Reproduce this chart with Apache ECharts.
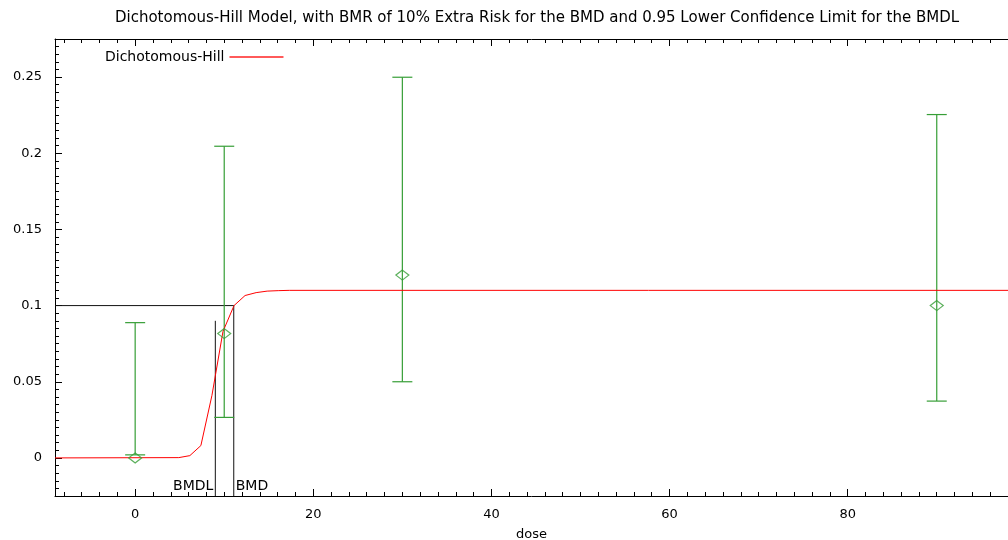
<!DOCTYPE html>
<html>
<head>
<meta charset="utf-8">
<script src="https://cdn.jsdelivr.net/npm/echarts@6/dist/echarts.min.js"></script>
<style>
html,body{margin:0;padding:0;background:#fff;}
#chart{width:1008px;height:540px;}
</style>
</head>
<body>
<div id="chart"></div>
<script>
// ---- data ----
const doses   = [0, 10, 30, 90];
const means   = [0, 0.0816, 0.12, 0.1];
const lowerCL = [0.002, 0.0266, 0.05, 0.0373];
const upperCL = [0.0888, 0.2046, 0.2499, 0.2254];

const curveDose = [-9, 4.9, 6.14, 7.38, 8.62, 9.86, 11.1, 12.34, 13.58, 14.82, 16.06, 17.3, 98];
const curveResp = [0, 0.0002, 0.0015, 0.0081, 0.041, 0.083, 0.1, 0.1066, 0.1085, 0.1095, 0.1098, 0.11, 0.11];

const bmrLevel = 0.1;
const bmdValue = 11.07;
const bmdlValue = 9.0;
const bmdlTop = 0.09;

const xTickLabels = [0, 20, 40, 60, 80];
const yTickLabels = [0, 0.05, 0.1, 0.15, 0.2, 0.25];

const xMin = -9, xMax = 98, yMin = -0.025, yMax = 0.275;

const xMinor = [];
for (let v = -8; v <= xMax; v += 2) if (v % 20 !== 0) xMinor.push(v);
const yMinor = [];
for (let k = -5; k <= 55; k++) if (k % 10 !== 0) yMinor.push(+(k * 0.005).toFixed(3));

const FONT = 'DejaVu Sans';
const green = '#369e36';

const chart = echarts.init(document.getElementById('chart'));

function xAxisDef(pos, major, withLabels) {
  return {
    type: 'value', position: pos, min: xMin, max: xMax, gridIndex: 0,
    axisLine: { show: major, onZero: false, lineStyle: { color: '#000', width: 1 } },
    axisTick: { show: true, inside: true, length: major ? 7 : 4,
      customValues: major ? xTickLabels : xMinor, lineStyle: { color: '#000' } },
    axisLabel: withLabels ? { show: true, customValues: xTickLabels, margin: 12,
      fontFamily: FONT, fontSize: 13, color: '#000' } : { show: false },
    splitLine: { show: false },
    name: withLabels ? 'dose' : '', nameLocation: 'middle', nameGap: 32,
    nameTextStyle: { fontFamily: FONT, fontSize: 13, color: '#000' }
  };
}
function yAxisDef(major) {
  return {
    type: 'value', position: 'left', min: yMin, max: yMax, gridIndex: 0,
    axisLine: { show: major, onZero: false, lineStyle: { color: '#000', width: 1 } },
    axisTick: { show: true, inside: true, length: major ? 7 : 4,
      customValues: major ? yTickLabels : yMinor, lineStyle: { color: '#000' } },
    axisLabel: major ? { show: true, customValues: yTickLabels, margin: 13,
      fontFamily: FONT, fontSize: 13, color: '#000' } : { show: false },
    splitLine: { show: false }
  };
}

const errData = doses.map((d, i) => [d, lowerCL[i], upperCL[i]]);
const ptData = doses.map((d, i) => [d, means[i]]);
const curveData = curveDose.map((d, i) => [d, curveResp[i]]);

const option = {
  animation: false,
  backgroundColor: '#fff',
  title: {
    text: 'Dichotomous-Hill Model, with BMR of 10% Extra Risk for the BMD and 0.95 Lower Confidence Limit for the BMDL',
    left: 532, top: 6, textAlign: 'center',
    textStyle: { fontFamily: FONT, fontSize: 15, fontWeight: 'normal', color: '#000' }
  },
  legend: {
    data: ['Dichotomous-Hill'], left: 100, top: 45, align: 'right',
    itemWidth: 54, itemHeight: 14,
    textStyle: { fontFamily: FONT, fontSize: 14, color: '#000' },
    lineStyle: { width: 2, color: '#ff5a5a' },
    itemStyle: { opacity: 0 }
  },
  grid: { left: 55, right: 0, top: 39, bottom: 44, containLabel: false, outerBoundsMode: 'none' },
  xAxis: [xAxisDef('bottom', true, true), xAxisDef('bottom', false, false),
          xAxisDef('top', true, false), xAxisDef('top', false, false)],
  yAxis: [yAxisDef(true), yAxisDef(false)],
  series: [
    {
      name: 'BMD lines', type: 'custom', xAxisIndex: 0, yAxisIndex: 0,
      data: [[bmdlValue, bmdValue]],
      renderItem: function (params, api) {
        const pL = api.coord([xMin, bmrLevel]);
        const pB = api.coord([bmdValue, bmrLevel]);
        const pBb = api.coord([bmdValue, yMin]);
        const pLt = api.coord([bmdlValue, bmdlTop]);
        const pLb = api.coord([bmdlValue, yMin]);
        const ls = { stroke: '#111', lineWidth: 1 };
        return { type: 'group', children: [
          { type: 'line', shape: { x1: pL[0], y1: pL[1], x2: pB[0], y2: pB[1] }, style: ls },
          { type: 'line', shape: { x1: pB[0], y1: pB[1], x2: pBb[0], y2: pBb[1] }, style: ls },
          { type: 'line', shape: { x1: pLt[0], y1: pLt[1], x2: pLb[0], y2: pLb[1] }, style: ls },
          { type: 'text', style: { text: 'BMDL', x: pLb[0] - 2, y: pLb[1] - 10, align: 'right',
              verticalAlign: 'middle', fill: '#000', fontFamily: FONT, fontSize: 14 } },
          { type: 'text', style: { text: 'BMD', x: pBb[0] + 2, y: pBb[1] - 10, align: 'left',
              verticalAlign: 'middle', fill: '#000', fontFamily: FONT, fontSize: 14 } }
        ]};
      },
      z: 2
    },
    {
      name: 'CI', type: 'custom', xAxisIndex: 0, yAxisIndex: 0,
      data: errData,
      renderItem: function (params, api) {
        const lo = api.coord([api.value(0), api.value(1)]);
        const hi = api.coord([api.value(0), api.value(2)]);
        const w = 10;
        const st = { stroke: green, lineWidth: 1.2 };
        return { type: 'group', children: [
          { type: 'line', shape: { x1: lo[0], y1: lo[1], x2: hi[0], y2: hi[1] }, style: st },
          { type: 'line', shape: { x1: lo[0] - w, y1: lo[1], x2: lo[0] + w, y2: lo[1] }, style: st },
          { type: 'line', shape: { x1: hi[0] - w, y1: hi[1], x2: hi[0] + w, y2: hi[1] }, style: st }
        ]};
      },
      z: 3
    },
    {
      name: 'Dichotomous-Hill', type: 'line', data: curveData,
      showSymbol: false, symbol: 'none', smooth: false,
      lineStyle: { color: '#ff0000', width: 1 }, itemStyle: { color: '#ff0000' },
      z: 4
    },
    {
      name: 'Observed', type: 'scatter', data: ptData,
      symbol: 'diamond', symbolSize: [13, 10],
      itemStyle: { color: 'rgba(0,0,0,0)', borderColor: green, borderWidth: 1.2 },
      z: 5
    }
  ]
};
chart.setOption(option);
</script>
</body>
</html>
